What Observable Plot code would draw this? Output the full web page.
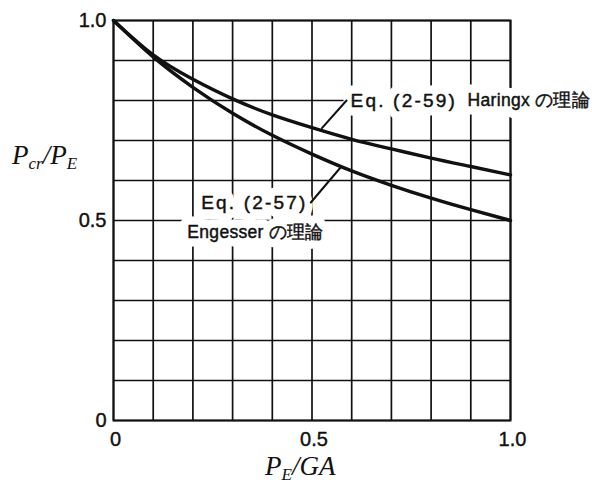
<!DOCTYPE html>
<html>
<head>
<meta charset="utf-8">
<script src="https://cdn.jsdelivr.net/npm/d3@7"></script>
<script src="https://cdn.jsdelivr.net/npm/@observablehq/plot@0.6"></script>
<style>
  html, body { margin: 0; padding: 0; background: #fff; }
  #chart svg { display: block; }
</style>
</head>
<body>
<div id="chart"></div>
<script>
// Ratio P_E/GA (horizontal) and buckling-load ratio P_cr/P_E (vertical)
const shearRatio = [0, 0.1, 0.2, 0.3, 0.4, 0.5, 0.6, 0.7, 0.8, 0.9, 1.0];
const haringx    = [1.0, 0.914, 0.853, 0.804, 0.764, 0.732, 0.703, 0.679, 0.656, 0.635, 0.614];
const engesser   = [1.0, 0.909, 0.833, 0.768, 0.713, 0.666, 0.624, 0.588, 0.556, 0.527, 0.5];

const gridTicks = d3.range(0, 11).map(i => i / 10);
const axisTicks = [0, 0.5, 1.0];

// Annotation labels (data units) and their leader arrows
const eqStartLabels = [{x: 0.597, y: 0.798, text: "Eq. (2-59)"}];
const eqEndLabels   = [{x: 0.489, y: 0.545, text: "Eq. (2-57)"}];
const theoryLabels  = [
  {x: 0.892, y: 0.800, text: "Haringx の理論"},
  {x: 0.186, y: 0.470, text: "Engesser の理論"}
];
const leaders = [
  {x1: 0.587, y1: 0.800, x2: 0.525, y2: 0.731, bend: -22},
  {x1: 0.497, y1: 0.545, x2: 0.574, y2: 0.635, bend: 28}
];

const curves = [
  ...shearRatio.map((x, i) => ({x, y: haringx[i], s: "Haringx"})),
  ...shearRatio.map((x, i) => ({x, y: engesser[i], s: "Engesser"}))
];

// a white halo pass (cuts the grid) followed by the ink pass
const labelMarks = (data, opts) => [
  Plot.text(data, {...opts, fill: "white", stroke: "white", strokeWidth: 17}),
  Plot.text(data, {...opts, fill: "#111", stroke: "#111", strokeWidth: 0.45})
];

const chart = Plot.plot({
  width: 592,
  height: 486,
  marginLeft: 113,
  marginRight: 82,
  marginTop: 20,
  marginBottom: 66,
  style: {fontFamily: "'Liberation Sans', Arial, sans-serif", fontSize: "20px", color: "#111", background: "white"},
  x: {domain: [0, 1], label: null},
  y: {domain: [0, 1], label: null},
  marks: [
    Plot.gridX(gridTicks, {stroke: "#111", strokeOpacity: 1, strokeWidth: 1.7}),
    Plot.gridY(gridTicks, {stroke: "#111", strokeOpacity: 1, strokeWidth: 1.7}),
    Plot.frame({stroke: "#111", strokeWidth: 2}),
    Plot.axisX(axisTicks, {tickSize: 0, tickPadding: 11, tickFormat: d => d === 0 ? "0" : d.toFixed(1), fontSize: 20, dx: 2, className: "tick-label"}),
    Plot.axisY(axisTicks, {tickSize: 0, tickPadding: 7, tickFormat: d => d === 0 ? "0" : d.toFixed(1), fontSize: 20, className: "tick-label"}),
    ...labelMarks(eqStartLabels, {x: "x", y: "y", text: "text", textAnchor: "start", fontSize: 19, className: "eq"}),
    ...labelMarks(eqEndLabels, {x: "x", y: "y", text: "text", textAnchor: "end", fontSize: 19, className: "eq"}),
    ...labelMarks(theoryLabels, {x: "x", y: "y", text: "text", textAnchor: "start", fontSize: 17.5, className: "th"}),
    Plot.line(curves, {x: "x", y: "y", z: "s", curve: "natural", stroke: "#111", strokeWidth: 3.4}),
    Plot.arrow(leaders, {x1: "x1", y1: "y1", x2: "x2", y2: "y2", bend: "bend", stroke: "#111", strokeWidth: 2, headLength: 14, headAngle: 50})
  ]
});

const svg = d3.select(chart);

// Letter spacing for the labels, slightly heavier tick digits
svg.selectAll("g.eq text").attr("letter-spacing", "2.2px");
svg.selectAll("g.th text").attr("letter-spacing", "0.3px");
svg.selectAll("g.tick-label text").attr("stroke", "#111").attr("stroke-width", 0.4);

// Axis titles with subscripts
const title = (x, y, parts) => {
  const t = svg.append("text")
    .attr("x", x).attr("y", y)
    .attr("text-anchor", "start")
    .attr("font-family", "'Liberation Serif', 'Times New Roman', serif")
    .attr("font-style", "italic")
    .attr("fill", "#111");
  for (const [str, size, dy] of parts) {
    t.append("tspan").attr("font-size", size).attr("dy", dy).text(str);
  }
};
title(12, 164, [["P", 27, 0], ["cr", 17, 5], ["/", 27, -5], ["P", 27, 0], ["E", 17, 5]]);
title(265, 475, [["P", 27, 0], ["E", 17, 5], ["/", 27, -5], ["GA", 27, 0]]);

document.getElementById("chart").appendChild(chart);
</script>
</body>
</html>
